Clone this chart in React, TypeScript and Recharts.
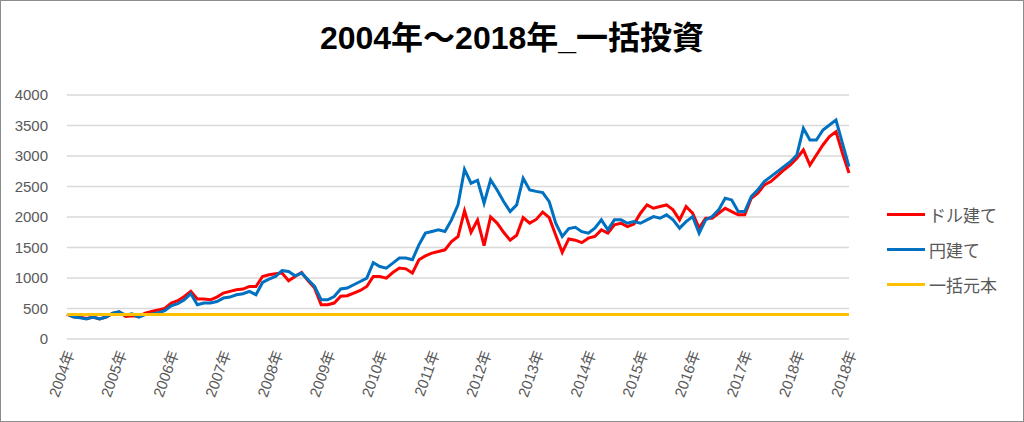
import { CartesianGrid, Legend, Line, LineChart, XAxis, YAxis } from "recharts";

// 8 readings per year, 2004 start through 2018 end (121 points)
const yearLabels = [
  "2004年", "2005年", "2006年", "2007年", "2008年", "2009年", "2010年", "2011年",
  "2012年", "2013年", "2014年", "2015年", "2016年", "2017年", "2018年", "2018年"
];

const dollarValues = [
  405, 365, 355, 335, 360, 330, 360, 420, // 2004
  445, 370, 380, 370, 425, 450, 475, 500, // 2005
  590, 627, 697, 780, 655, 655, 643, 687, // 2006
  753, 780, 807, 818, 861, 861, 1025, 1053, // 2007
  1069, 1080, 954, 1025, 1090, 954, 834, 561, // 2008
  561, 589, 700, 709, 753, 796, 861, 1025, // 2009
  1025, 998, 1090, 1162, 1150, 1080, 1298, 1363, // 2010
  1408, 1434, 1462, 1598, 1680, 2100, 1750, 1950, // 2011
  1530, 2000, 1900, 1750, 1620, 1700, 1990, 1900, // 2012
  1960, 2080, 1990, 1700, 1420, 1640, 1620, 1580, // 2013
  1653, 1680, 1789, 1735, 1871, 1898, 1843, 1884, // 2014
  2062, 2198, 2144, 2171, 2198, 2117, 1953, 2171, // 2015
  2062, 1817, 1980, 1980, 2062, 2144, 2089, 2035, // 2016
  2035, 2308, 2389, 2526, 2580, 2673, 2771, 2853, // 2017
  2963, 3099, 2850, 3017, 3181, 3317, 3399, 3045, // 2018
  2720
];

const yenValues = [
  410, 360, 348, 327, 360, 327, 360, 425, // 2004
  447, 393, 413, 360, 400, 410, 430, 465, // 2005
  545, 578, 643, 742, 561, 590, 590, 615, // 2006
  671, 687, 725, 742, 780, 725, 927, 982, // 2007
  1025, 1120, 1107, 1036, 1080, 971, 861, 643, // 2008
  643, 697, 820, 835, 889, 943, 998, 1250, // 2009
  1188, 1162, 1244, 1326, 1326, 1298, 1544, 1735, // 2010
  1762, 1789, 1762, 1953, 2198, 2780, 2554, 2600, // 2011
  2226, 2608, 2444, 2253, 2089, 2198, 2635, 2444, // 2012
  2420, 2400, 2250, 1900, 1680, 1810, 1830, 1760, // 2013
  1735, 1817, 1953, 1789, 1953, 1953, 1898, 1925, // 2014
  1898, 1953, 2007, 1980, 2035, 1953, 1817, 1925, // 2015
  2007, 1735, 1953, 2007, 2117, 2308, 2280, 2089, // 2016
  2089, 2335, 2444, 2580, 2662, 2744, 2826, 2907, // 2017
  3017, 3454, 3263, 3263, 3426, 3508, 3590, 3208, // 2018
  2826
];

const principal = 400;
const yTicks = [0, 500, 1000, 1500, 2000, 2500, 3000, 3500, 4000];

const series = [
  { key: "dollar", name: "ドル建て", color: "#FF0000" },
  { key: "yen", name: "円建て", color: "#0070C0" },
  { key: "principal", name: "一括元本", color: "#FFC000" }
];

const data = dollarValues.map((v, i) => ({
  idx: i,
  dollar: v,
  yen: yenValues[i],
  principal
}));

const xTicks = yearLabels.map((_, i) => i * 8);
const font = "'Liberation Sans', 'Noto Sans CJK JP', sans-serif";

function YearTick({ x, y, payload }: any) {
  const label = yearLabels[Math.round(payload.value / 8)];
  return (
    <text
      x={x + 3}
      y={y}
      transform={`rotate(-70, ${x + 3}, ${y})`}
      textAnchor="end"
      dy="0.35em"
      fill="#595959"
      fontSize={15}
      fontFamily={font}
    >
      {label}
    </text>
  );
}

function SideLegend() {
  return (
    <div style={{ fontFamily: font, fontSize: 17, color: "#595959" }}>
      {series.map((s) => (
        <div key={s.key} style={{ display: "flex", alignItems: "center", height: 35 }}>
          <span style={{ width: 38, height: 3, background: s.color, marginRight: 4 }} />
          <span>{s.name}</span>
        </div>
      ))}
    </div>
  );
}

export default function App() {
  return (
    <div
      style={{
        position: "absolute",
        left: 0,
        top: 0,
        width: 1022,
        height: 420,
        border: "1px solid #8c8c8c",
        background: "#fff"
      }}
    >
      <div
        style={{
          position: "absolute",
          top: 19,
          width: "100%",
          textAlign: "center",
          fontFamily: font,
          fontWeight: "bold",
          fontSize: 32,
          lineHeight: "36px",
          color: "#000"
        }}
      >
        2004年～2018年_一括投資
      </div>
      <LineChart
        width={1022}
        height={420}
        data={data}
        margin={{ top: 94, right: 38, bottom: 12, left: 0 }}
      >
        <CartesianGrid vertical={false} stroke="#d9d9d9" strokeWidth={1.5} />
        <XAxis
          dataKey="idx"
          type="number"
          domain={[0, 120]}
          ticks={xTicks}
          interval={0}
          axisLine={false}
          tickLine={false}
          tickSize={0}
          tickMargin={12}
          height={70}
          tick={<YearTick />}
        />
        <YAxis
          domain={[0, 4000]}
          ticks={yTicks}
          interval={0}
          axisLine={false}
          tickLine={false}
          tickSize={0}
          tickMargin={19}
          width={66}
          tick={{ fill: "#595959", fontSize: 15, fontFamily: font }}
        />
        <Legend
          layout="vertical"
          verticalAlign="top"
          align="right"
          wrapperStyle={{ left: 886, top: 196, width: 136 }}
          content={<SideLegend />}
        />
        {series.map((s) => (
          <Line
            key={s.key}
            dataKey={s.key}
            name={s.name}
            type="linear"
            stroke={s.color}
            strokeWidth={3}
            dot={false}
            isAnimationActive={false}
          />
        ))}
      </LineChart>
    </div>
  );
}
